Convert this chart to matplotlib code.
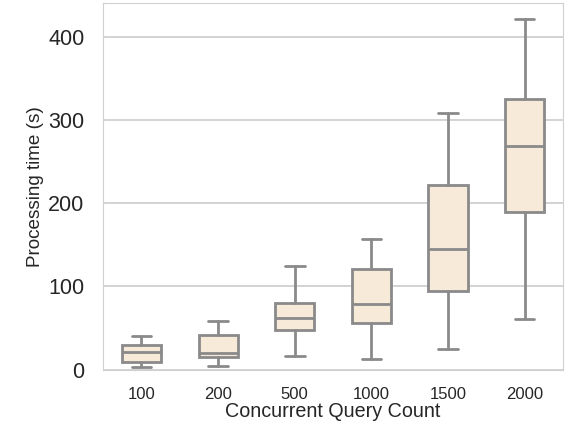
import matplotlib.pyplot as plt
import seaborn as sns

# Processing time per concurrency level (box summary, seconds)
counts = ['100', '200', '500', '1000', '1500', '2000']
whislo = [3.5, 5, 16, 13, 25, 61]
q1 = [9, 15, 48, 56, 95, 189]
med = [21, 20, 62, 79, 145, 269]
q3 = [30, 42, 80, 121, 222, 325]
whishi = [40, 59, 124, 157, 308, 421]

sns.set_style('whitegrid')
plt.rcParams['font.family'] = ['Liberation Sans', 'DejaVu Sans']

stats = [
    {'label': c, 'whislo': lo, 'q1': a, 'med': m, 'q3': b, 'whishi': hi, 'fliers': []}
    for c, lo, a, m, b, hi in zip(counts, whislo, q1, med, q3, whishi)
]

fig = plt.figure(figsize=(5.73, 4.22), dpi=100)
ax = fig.add_axes([0.18, 0.124, 0.8025, 0.868])

line = dict(color='#8a8a8a', linewidth=2)
ax.bxp(stats, positions=range(len(counts)), widths=0.51, patch_artist=True,
       boxprops=dict(facecolor='#f7ead8', edgecolor='#8a8a8a', linewidth=2),
       medianprops=line, whiskerprops=line, capprops=line, showfliers=False)

ax.set_xlim(-0.5, len(counts) - 0.5)
ax.set_ylim(0, 440)
ax.set_yticks([0, 100, 200, 300, 400])
ax.set_xticks(range(len(counts)))
ax.set_xticklabels(counts)
ax.tick_params(axis='y', labelsize=15.5, colors='#262626', pad=10)
ax.tick_params(axis='x', labelsize=12, colors='#262626', pad=9)
ax.xaxis.grid(False)
ax.yaxis.grid(True, color='#cccccc', linewidth=1.2)
for s in ax.spines.values():
    s.set_color('#d0d0d0')

ax.set_xlabel('Concurrent Query Count', fontsize=14.2, color='#262626', labelpad=0)
ax.set_ylabel('Processing time (s)', fontsize=13.6, color='#262626', labelpad=3)

fig.savefig('out.png', dpi=100)
